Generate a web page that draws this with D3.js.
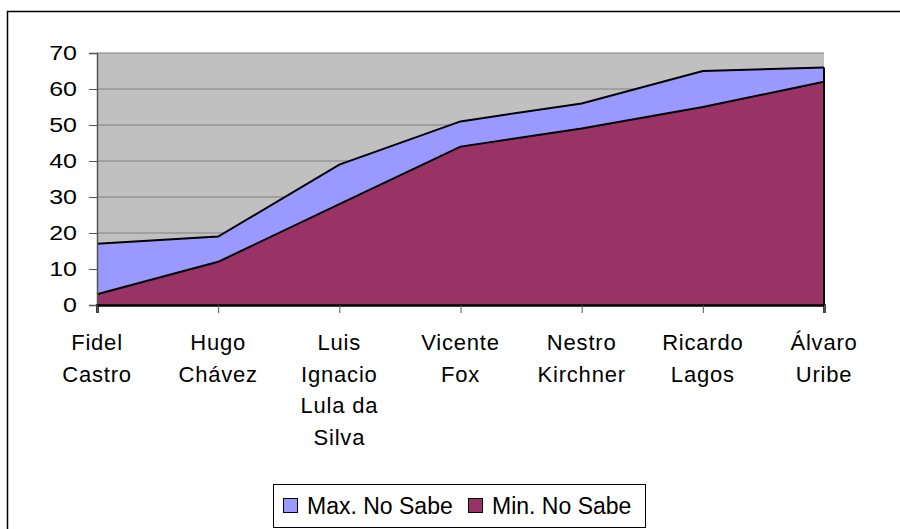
<!DOCTYPE html>
<html>
<head>
<meta charset="utf-8">
<script src="https://cdn.jsdelivr.net/npm/d3@7"></script>
<style>
  body { margin: 0; background: #fff; }
  text { font-family: "Liberation Sans", Arial, sans-serif; fill: #000; }
</style>
</head>
<body>
<div id="chart"></div>
<script>
// data
const leaders = [
  ["Fidel", "Castro"],
  ["Hugo", "Chávez"],
  ["Luis", "Ignacio", "Lula da", "Silva"],
  ["Vicente", "Fox"],
  ["Nestro", "Kirchner"],
  ["Ricardo", "Lagos"],
  ["Álvaro", "Uribe"]
];
const maxNoSabe = [17, 19, 39, 51, 56, 65, 66];
const minNoSabe = [3, 12, 28, 44, 49, 55, 62];
const yTicks = [0, 10, 20, 30, 40, 50, 60, 70];
const seriesNames = ["Max. No Sabe", "Min. No Sabe"];
const seriesColors = ["#9999FF", "#993366"];

const W = 900, H = 529;
const margin = { top: 53, right: 76, bottom: 224, left: 97 };
const width = W - margin.left - margin.right;
const height = H - margin.top - margin.bottom;

const svg = d3.select("#chart").append("svg")
  .attr("width", W)
  .attr("height", H);

// outer chart frame
svg.append("rect")
  .attr("x", 7.5).attr("y", 11.5)
  .attr("width", 900).attr("height", 540)
  .attr("fill", "none").attr("stroke", "#000").attr("stroke-width", 1.5);

const chart = svg.append("g")
  .attr("transform", `translate(${margin.left},${margin.top})`);

const x = d3.scalePoint()
  .domain(d3.range(leaders.length))
  .range([0, width]);

const y = d3.scaleLinear()
  .domain([0, 70])
  .range([height, 0]);

chart.append("rect")
  .attr("width", width).attr("height", height)
  .attr("fill", "#C0C0C0");

// gridlines
chart.selectAll(".grid")
  .data(yTicks.slice(1))
  .join("line")
  .attr("x1", 0).attr("x2", width)
  .attr("y1", d => y(d)).attr("y2", d => y(d))
  .attr("stroke", "#808080").attr("stroke-width", 1.2);

const area = vals => d3.area()
  .x((d, i) => x(i))
  .y0(height)
  .y1(d => y(d))(vals);
const line = d3.line().x((d, i) => x(i)).y(d => y(d));

[maxNoSabe, minNoSabe].forEach((vals, k) => {
  chart.append("path")
    .attr("d", area(vals))
    .attr("fill", seriesColors[k]);
  chart.append("path")
    .attr("d", line(vals))
    .attr("fill", "none")
    .attr("stroke", "#000")
    .attr("stroke-width", 2);
});

// right edge of the areas
chart.append("line")
  .attr("x1", width).attr("x2", width)
  .attr("y1", y(maxNoSabe[6])).attr("y2", height)
  .attr("stroke", "#000").attr("stroke-width", 2);

// y axis
const yAxis = chart.append("g")
  .call(d3.axisLeft(y).tickValues(yTicks).tickSize(8));
yAxis.select(".domain").attr("stroke", "#555").attr("stroke-width", 1.5);
yAxis.selectAll(".tick line").attr("stroke", "#555");
yAxis.selectAll("text")
  .attr("x", 0)
  .attr("transform", "translate(-20,0) scale(1.25,1)")
  .style("font-size", "20px")
  .attr("font-family", null);

// x axis
const xAxis = chart.append("g")
  .attr("transform", `translate(0,${height})`)
  .call(d3.axisBottom(x).tickSize(8).tickFormat(""));
xAxis.select(".domain").attr("stroke", "#000").attr("stroke-width", 2.5);
xAxis.selectAll(".tick line").attr("stroke", "#555");

chart.selectAll(".xlab")
  .data(leaders)
  .join("text")
  .attr("class", "xlab")
  .attr("text-anchor", "middle")
  .attr("transform", (d, i) => `translate(${x(i)},${height + 45})`)
  .style("font-size", "22px")
  .style("letter-spacing", "0.8px")
  .selectAll("tspan")
  .data(d => d)
  .join("tspan")
  .attr("x", 0)
  .attr("y", (d, j) => j * 31.7)
  .text(d => d);

// legend
const legend = svg.append("g").attr("transform", "translate(273,484)");
legend.append("rect")
  .attr("x", 0.5).attr("y", 0.5)
  .attr("width", 372).attr("height", 43)
  .attr("fill", "#fff").attr("stroke", "#000");
const itemX = [10, 195];
seriesNames.forEach((name, k) => {
  legend.append("rect")
    .attr("x", itemX[k] + 0.5).attr("y", 14.5)
    .attr("width", 14).attr("height", 14)
    .attr("fill", seriesColors[k]).attr("stroke", "#000");
  legend.append("text")
    .attr("x", itemX[k] + 24).attr("y", 30)
    .style("font-size", "23px")
    .text(name);
});
</script>
</body>
</html>
